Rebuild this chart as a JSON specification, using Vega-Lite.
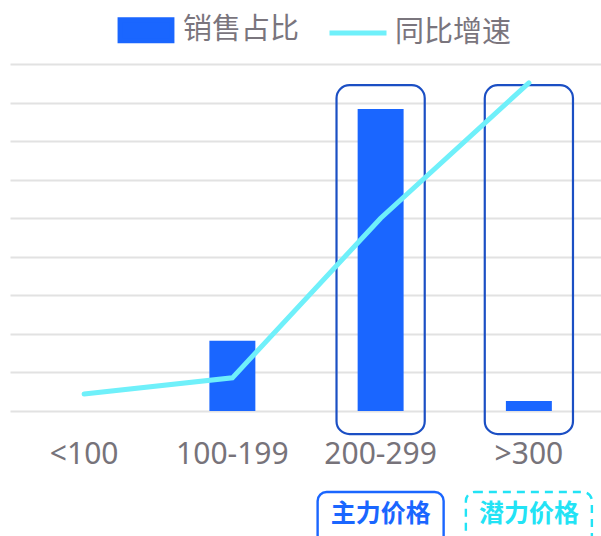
{
  "$schema": "https://vega.github.io/schema/vega-lite/v6.json",
  "autosize": "none",
  "width": 593,
  "height": 347,
  "padding": {"left": 10, "top": 64, "right": 0, "bottom": 125},
  "background": "white",
  "config": {
    "view": {"stroke": null},
    "axisX": {"domain": false, "ticks": false, "labelAngle": 0, "labelFontSize": 30, "labelColor": "#77737a", "labelFont": "Noto Sans", "labelPadding": 28, "grid": false, "title": null},
    "axisY": {"domain": false, "ticks": false, "labels": false, "grid": true, "gridColor": "#e2e2e2", "gridWidth": 2, "title": null, "values": [0, 1, 2, 3, 4, 5, 6, 7, 8, 9]}
  },
  "datasets": {
    "main": [
      {"range": "<100", "share": 0, "growth": 0.44},
      {"range": "100-199", "share": 1.82, "growth": 0.86},
      {"range": "200-299", "share": 7.83, "growth": 5.0},
      {"range": ">300", "share": 0.26, "growth": 8.51}
    ],
    "highlight": [
      {"range": "200-299", "top": 8.45, "bottom": -0.6},
      {"range": ">300", "top": 8.45, "bottom": -0.6}
    ],
    "notes": [
      {"range": "200-299", "label": "主力价格", "top": -2.1, "bottom": -3.6, "mid": -2.68}
    ],
    "notes2": [
      {"range": ">300", "label": "潜力价格", "top": -2.1, "bottom": -3.6, "mid": -2.68}
    ]
  },
  "layer": [
    {
      "data": {"name": "main"},
      "mark": {"type": "bar", "width": {"band": 0.31}},
      "encoding": {
        "x": {"field": "range", "type": "nominal", "sort": ["<100", "100-199", "200-299", ">300"], "scale": {"paddingInner": 0, "paddingOuter": 0}, "title": null},
        "y": {"field": "share", "type": "quantitative", "scale": {"domain": [0, 9], "nice": false, "zero": false}, "title": null},
        "color": {
          "datum": "销售占比",
          "scale": {"domain": ["销售占比", "同比增速"], "range": ["#1a66ff", "#6ff0fa"]},
          "legend": {
            "orient": "none", "legendX": 105, "legendY": -65, "direction": "horizontal",
            "title": null, "labelFontSize": 29, "labelColor": "#7a757d", "labelFont": "Noto Sans CJK SC",
            "symbolSize": 3249, "symbolStrokeWidth": 5, "labelOffset": 6, "columnPadding": 19,
            "encode": {"symbols": {"update": {
              "shape": {"signal": "datum.value === '销售占比' ? 'M-0.91,-0.37H0.91V0.37H-0.91Z' : 'stroke'"},
              "fill": {"signal": "datum.value === '销售占比' ? '#1a66ff' : 'transparent'"},
              "stroke": {"signal": "datum.value === '销售占比' ? 'transparent' : '#6ff0fa'"},
              "strokeWidth": {"value": 5},
              "opacity": {"value": 1}
            }}}
          }
        }
      }
    },
    {
      "data": {"name": "highlight"},
      "mark": {"type": "bar", "width": {"band": 0.595}, "cornerRadius": 13, "fill": "transparent", "stroke": "#1b4fc4", "strokeWidth": 2.2},
      "encoding": {
        "x": {"field": "range", "type": "nominal", "sort": ["<100", "100-199", "200-299", ">300"]},
        "y": {"field": "top", "type": "quantitative"},
        "y2": {"field": "bottom"}
      }
    },
    {
      "data": {"name": "main"},
      "mark": {"type": "line", "strokeWidth": 5, "strokeCap": "round", "strokeJoin": "miter"},
      "encoding": {
        "x": {"field": "range", "type": "nominal", "sort": ["<100", "100-199", "200-299", ">300"]},
        "y": {"field": "growth", "type": "quantitative"},
        "color": {"datum": "同比增速"}
      }
    },
    {
      "data": {"name": "notes"},
      "mark": {"type": "bar", "width": {"band": 0.85}, "cornerRadius": 9, "fill": "transparent", "stroke": "#1a66ff", "strokeWidth": 2.4},
      "encoding": {
        "x": {"field": "range", "type": "nominal", "sort": ["<100", "100-199", "200-299", ">300"]},
        "y": {"field": "top", "type": "quantitative"},
        "y2": {"field": "bottom"}
      }
    },
    {
      "data": {"name": "notes2"},
      "mark": {"type": "bar", "width": {"band": 0.85}, "cornerRadius": 9, "fill": "transparent", "stroke": "#22e3f5", "strokeWidth": 2.4, "strokeDash": [8, 6]},
      "encoding": {
        "x": {"field": "range", "type": "nominal", "sort": ["<100", "100-199", "200-299", ">300"]},
        "y": {"field": "top", "type": "quantitative"},
        "y2": {"field": "bottom"}
      }
    },
    {
      "data": {"name": "notes"},
      "mark": {"type": "text", "fontSize": 25, "fontWeight": "bold", "font": "Noto Sans CJK SC", "color": "#1a66ff", "baseline": "middle"},
      "encoding": {
        "x": {"field": "range", "type": "nominal", "sort": ["<100", "100-199", "200-299", ">300"]},
        "y": {"field": "mid", "type": "quantitative"},
        "text": {"field": "label"}
      }
    },
    {
      "data": {"name": "notes2"},
      "mark": {"type": "text", "fontSize": 25, "fontWeight": "bold", "font": "Noto Sans CJK SC", "color": "#22e3f5", "baseline": "middle"},
      "encoding": {
        "x": {"field": "range", "type": "nominal", "sort": ["<100", "100-199", "200-299", ">300"]},
        "y": {"field": "mid", "type": "quantitative"},
        "text": {"field": "label"}
      }
    }
  ]
}
